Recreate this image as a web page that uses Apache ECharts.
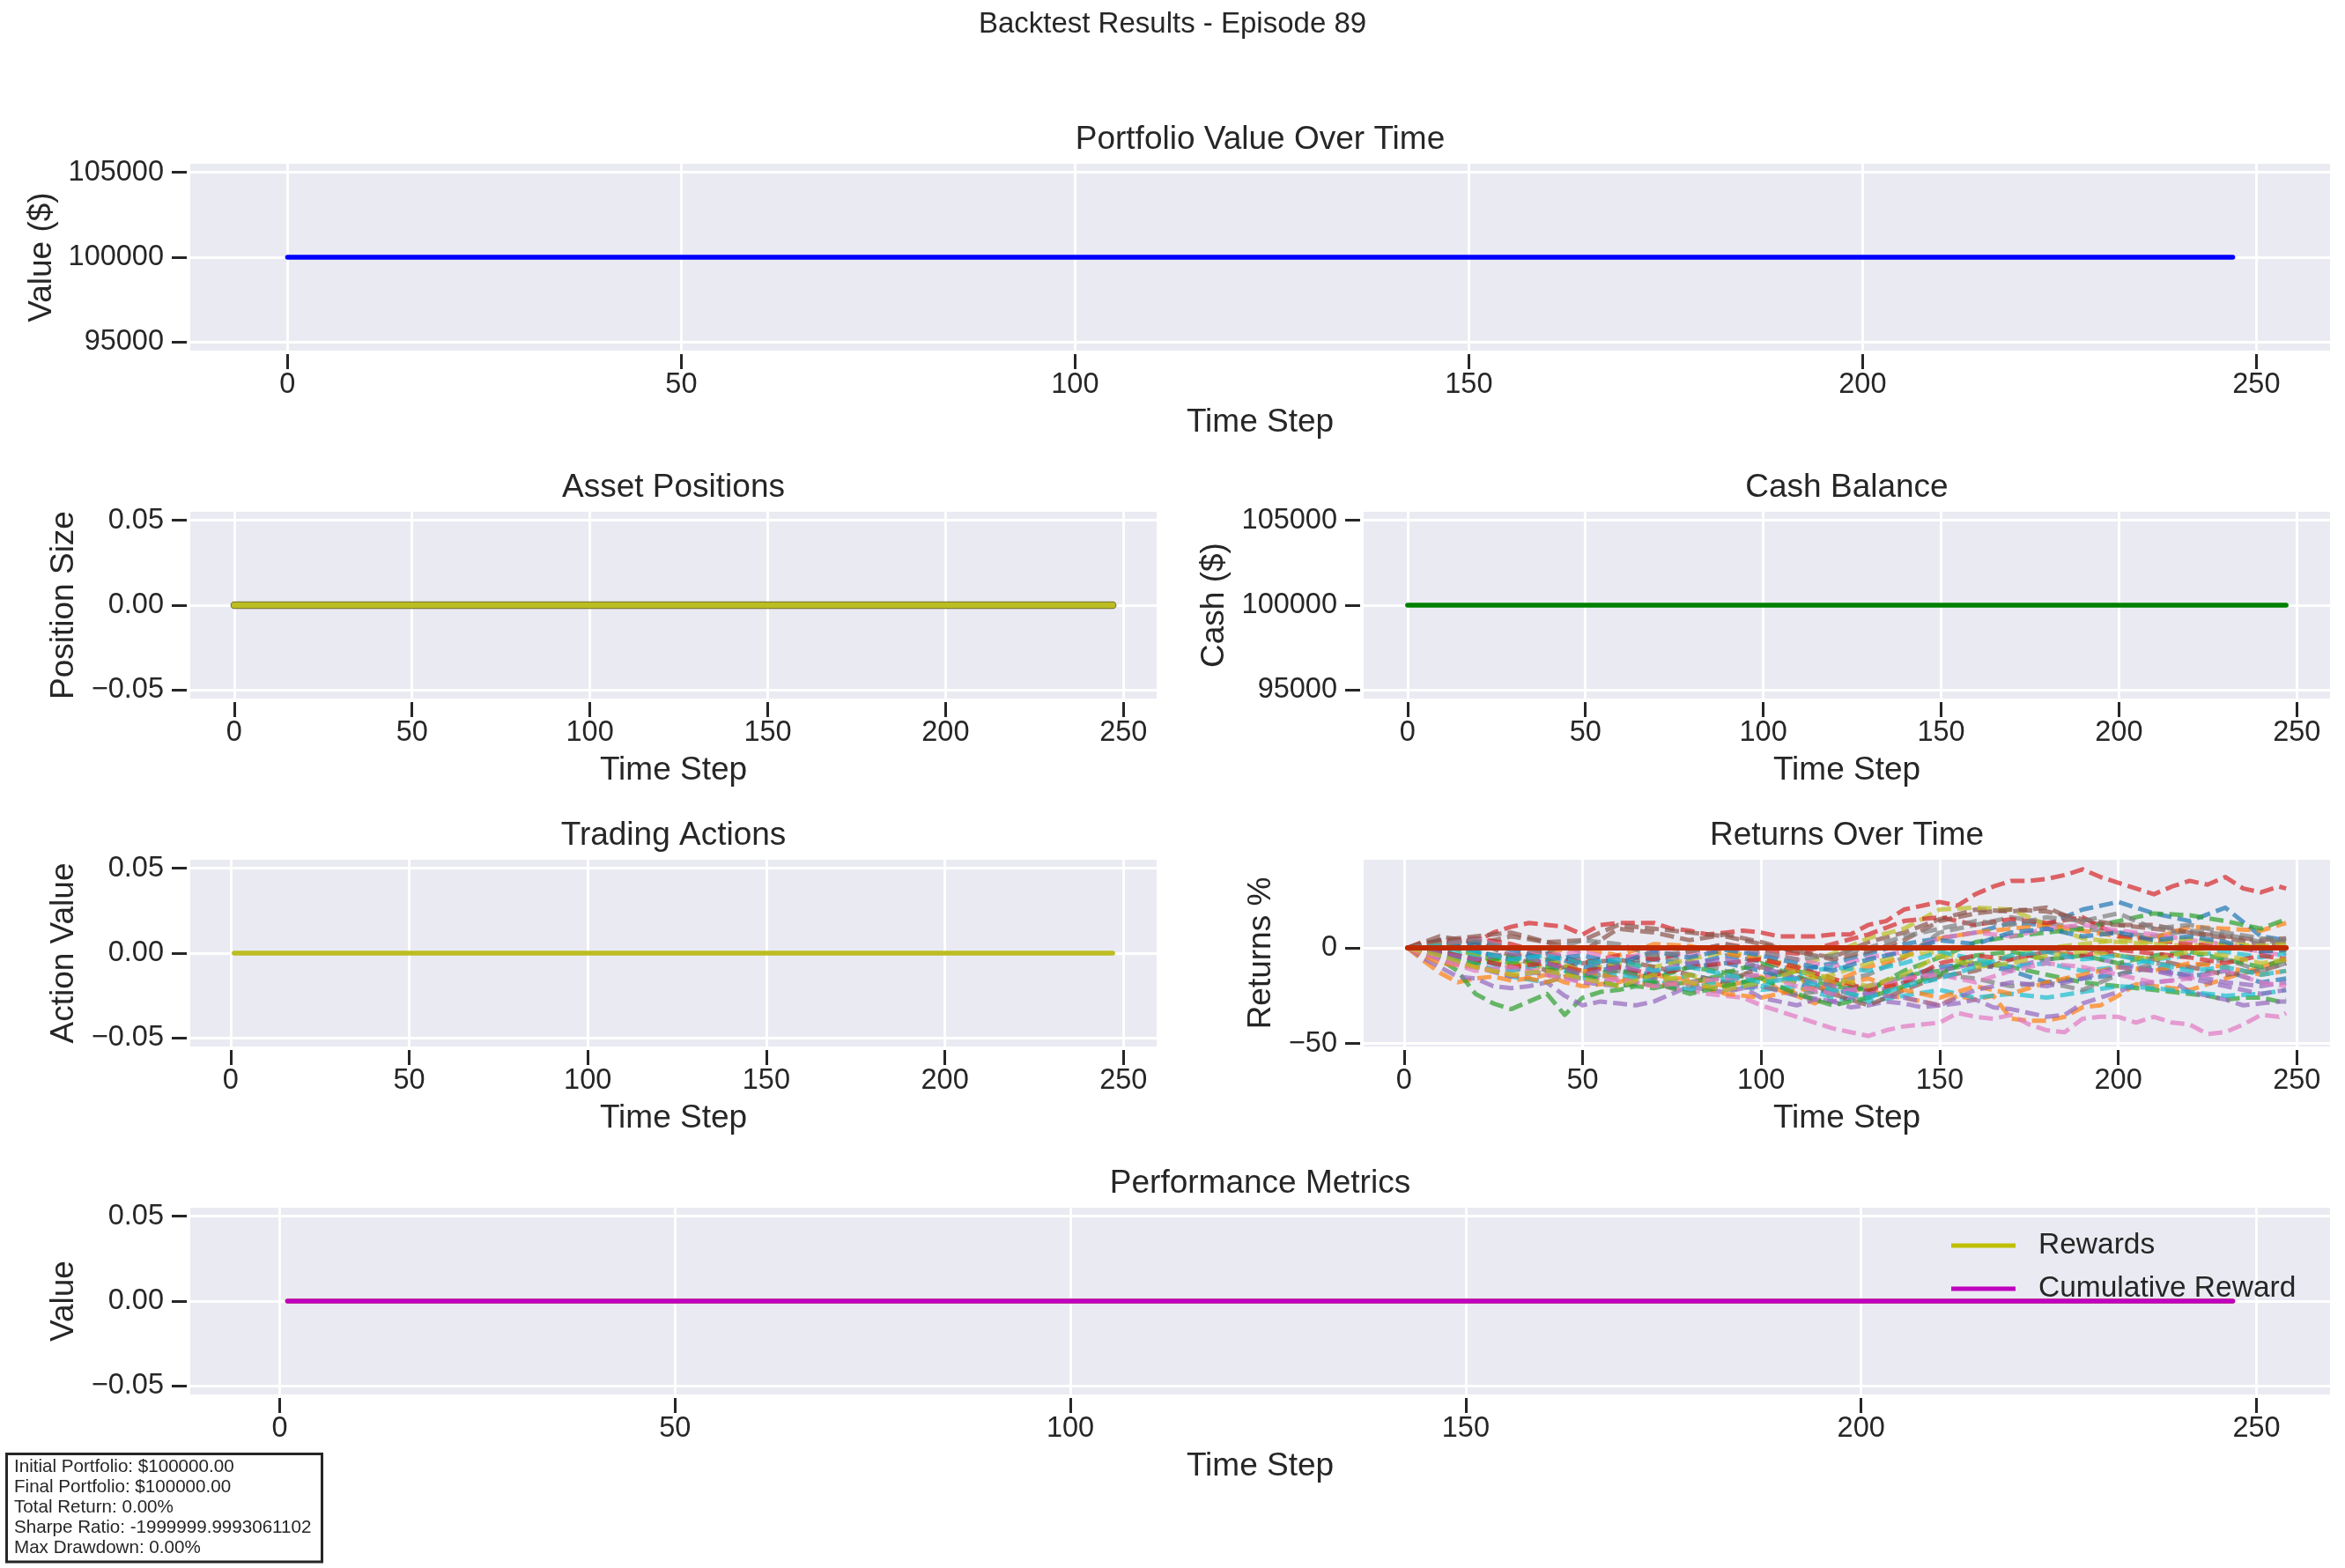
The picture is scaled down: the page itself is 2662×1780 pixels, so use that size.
<!DOCTYPE html>
<html><head><meta charset="utf-8">
<script src="https://cdn.jsdelivr.net/npm/echarts@6/dist/echarts.min.js"></script>
<style>html,body{margin:0;padding:0;background:#fff;overflow:hidden}#c{width:2662px;height:1780px}</style>
</head><body><div id="c"></div>
<script>
// ---------------- data ----------------
const portfolioSteps = [0, 247];
const portfolioValues = [100000, 100000];
const positionSteps = [0, 247];
const positionValues = [0, 0];
const cashSteps = [0, 247];
const cashValues = [100000, 100000];
const actionSteps = [1, 247];
const actionValues = [0, 0];
const rewardSteps = [1, 247];
const rewardValues = [0, 0];
const cumulativeRewardValues = [0, 0];
const portfolioReturnSteps = [1, 247];
const portfolioReturnValues = [0, 0];

const returnSteps = [1,10,20,30,40,50,60,70,80,90,100,110,120,130,140,150,160,170,180,190,200,210,220,230,240,247];
const fineSteps = [1,5,10,15,20,25,30,35,40,45,50,55,60,65,70,75,80,85,90,95,100,105,110,115,120,125,130,135,140,145,150,155,160,165,170,175,180,185,190,195,200,205,210,215,220,225,230,235,240,245,247];
const assetReturns = [
 [0,2,-3,-5,-2,-8,-10,-6,-9,-4,-7,-12,-8,-3,2,5,8,13,12,20,24,18,14,21,6,4],
 [0,-6,-13,-18,-16,-15,-17,-16,-14,-18,-20,-19,-18,-15,-14,-16,-16,-18,-20,-18,-15,-22,-25,-29,-24,-22,-22,-25,-26,-28,-30,-25,-27,-25,-37,-38,-38,-36,-31,-30,-25,-19,-20,-21,-22,-19,-16,-13,-10,-7,-6],
 [0,-3,-6,-12,-24,-29,-32,-28,-24,-35,-26,-23,-22,-20,-21,-19,-18,-16,-14,-15,-16,-14,-12,-15,-18,-20,-22,-18,-15,-13,-12,-10,-8,-9,-10,-12,-14,-16,-18,-19,-20,-21,-22,-23,-24,-25,-27,-26,-26,-28,-27],
 [0,3,2,4,3,8,11,13,12,11,7,12,13,13,13,10,9,7,8,9,8,6,6,6,7,7,12,14,20,22,24,22,28,32,35,35,36,38,41,37,34,31,28,32,35,33,37,31,29,32,31],
 [0,-5,-10,-15,-16,-20,-21,-20,-18,-25,-30,-28,-29,-30,-28,-24,-20,-22,-23,-21,-26,-28,-30,-27,-28,-31,-30,-28,-29,-31,-30,-29,-27,-31,-32,-34,-36,-35,-29,-26,-23,-19,-18,-17,-23,-25,-27,-30,-29,-28,-28],
 [0,4,2,6,3,-2,10,8,4,7,3,-2,-5,3,8,15,20,19,21,13,12,10,8,5,2,3],
 [0,-3,-5,-8,-9,-11,-12,-10,-12,-14,-15,-16,-17,-18,-19,-21,-22,-24,-25,-26,-30,-33,-36,-39,-42,-44,-46,-43,-41,-40,-39,-34,-36,-37,-35,-40,-43,-44,-37,-36,-36,-39,-36,-39,-40,-45,-44,-40,-35,-36,-34],
 [0,3,-2,-5,-8,-6,-10,-4,-7,-12,-15,-10,-18,-14,-5,8,12,16,13,10,8,6,9,7,3,4],
 [0,-3,-5,-8,-10,-12,-8,-10,-6,-2,-5,-10,-3,5,10,20,21,20,12,5,3,2,1,2,1,2],
 [0,-3,-8,-15,-18,-12,-16,-20,-14,-18,-22,-20,-26,-28,-25,-22,-26,-24,-26,-23,-20,-21,-23,-25,-24,-22],
 [0,4,-2,-6,-3,-10,-12,-14,-10,-8,-12,-18,-24,-20,-15,-10,-8,-12,-18,-16,-14,-10,-15,-12,-18,-16],
 [0,-2,-6,-4,-2,0,-4,2,1,-3,-6,-12,-18,-10,-5,5,8,10,12,9,6,5,11,10,9,13],
 [0,3,-4,-8,-6,-14,-12,-16,-10,-13,-8,-15,-20,-22,-12,-5,3,6,8,10,14,18,17,14,10,15],
 [0,3,5,2,-3,-8,-4,-6,-2,2,-1,-3,2,7,14,16,12,15,13,16,6,4,2,1,-2,-1],
 [0,-5,-10,-15,-12,-18,-20,-16,-18,-22,-20,-25,-28,-24,-18,-12,-8,-10,-6,-4,-8,-12,-14,-18,-20,-18],
 [0,6,3,-4,-12,-8,-6,-10,-14,-18,-10,-15,-24,-30,-22,-15,-12,-6,-2,0,-4,-6,-10,-14,-12,-8],
 [0,2,5,0,-4,-2,-6,-2,-4,0,-3,-6,-10,-5,-2,5,8,6,10,12,9,7,4,2,-2,-4],
 [0,-2,-6,-10,-14,-16,-12,-18,-20,-15,-20,-24,-22,-26,-18,-14,-16,-20,-18,-22,-14,-8,-10,-6,-12,-8],
 [0,2,-4,-10,-6,-12,-16,-18,-14,-20,-16,-18,-14,-8,-4,-2,-8,-4,0,2,4,3,5,2,0,-2],
 [0,-1,-5,-12,-8,-16,-14,-18,-22,-16,-20,-14,-10,-12,-8,-2,-6,-10,-8,-12,-10,-6,-4,-2,-5,-3],
 [0,-2,3,-1,-6,-4,-8,-2,-5,-1,-4,-8,-12,-6,-2,4,2,8,10,6,8,4,6,3,-2,-1],
 [0,-8,-10,-14,-18,-12,-16,-20,-18,-24,-26,-22,-20,-16,-22,-26,-20,-24,-18,-14,-10,-12,-8,-10,-14,-12],
 [0,-3,-8,-4,-10,-14,-20,-18,-24,-20,-16,-24,-30,-26,-20,-14,-4,-2,-6,-4,-8,-4,-2,-6,-10,-6],
 [0,-2,-6,-10,-8,-12,-10,-14,-10,-8,-6,-10,-16,-22,-18,-8,-4,-6,-2,-4,-1,-3,-5,-8,-4,-6],
 [0,-3,-6,-3,-8,-14,-10,-12,-8,-6,-10,-16,-20,-24,-26,-30,-22,-18,-20,-16,-10,-12,-16,-20,-24,-22],
 [0,4,6,8,3,4,12,10,8,6,2,-2,-6,-2,4,14,18,20,19,15,12,12,8,6,4,5],
 [0,-6,-12,-10,-14,-18,-16,-20,-18,-16,-14,-20,-24,-20,-16,-14,-18,-12,-8,-10,-14,-18,-16,-12,-18,-20],
 [0,2,4,0,-2,4,2,-4,-2,2,-2,-6,-4,0,6,10,14,12,16,14,18,10,12,8,5,4],
 [0,-4,-10,-14,-12,-16,-20,-14,-18,-22,-18,-12,-16,-20,-14,-4,-10,-8,-4,-2,-4,-6,-2,-4,-8,-6],
 [0,1,-2,-6,-4,-8,-6,-12,-10,-14,-18,-16,-22,-26,-20,-16,-10,-4,-2,-6,-4,-8,-12,-10,-14,-12]
];

const timeTicks = [0, 50, 100, 150, 200, 250];
const moneyTicks = [95000, 100000, 105000];
const smallTicks = [-0.05, 0, 0.05];
const returnTicks = [-50, 0];
const statsLines = [
  'Initial Portfolio: $100000.00',
  'Final Portfolio: $100000.00',
  'Total Return: 0.00%',
  'Sharpe Ratio: -1999999.9993061102',
  'Max Drawdown: 0.00%'
];

// ---------------- styling ----------------
const FONT = "'Liberation Sans', Arial, Helvetica, sans-serif";
const INK = '#262626';
const TAB10 = ['#1f77b4','#ff7f0e','#2ca02c','#d62728','#9467bd','#8c564b','#e377c2','#7f7f7f','#bcbd22','#17becf'];
const zip = (xs, ys) => xs.map((x, i) => [x, ys[i]]);
const minus = v => (v < 0 ? '\u2212' : '') + Math.abs(v);

const gridBoxes = [
  {left: 216, top: 186, width: 2429, height: 212},
  {left: 216, top: 581, width: 1097, height: 212},
  {left: 1548, top: 581, width: 1097, height: 212},
  {left: 216, top: 976, width: 1097, height: 212},
  {left: 1548, top: 976, width: 1097, height: 212},
  {left: 216, top: 1371, width: 2429, height: 212}
];
const grid = gridBoxes.map(g => Object.assign({show: true, backgroundColor: '#eaeaf2', borderWidth: 0, containLabel: false, outerBoundsMode: 'none'}, g));

function xAx(i, min, max) {
  return {type: 'value', gridIndex: i, min, max, offset: 4,
    axisLine: {show: false, onZero: false},
    axisTick: {show: true, length: 17, lineStyle: {color: INK, width: 3}, customValues: timeTicks},
    axisLabel: {customValues: timeTicks, fontSize: 32.5, color: INK, fontFamily: FONT, margin: 19},
    splitLine: {show: true, lineStyle: {color: '#ffffff', width: 2.8}}};
}
function yAx(i, min, max, ticks, fmt) {
  return {type: 'value', gridIndex: i, min, max, offset: 4,
    axisLine: {show: false, onZero: false},
    axisTick: {show: true, length: 17, lineStyle: {color: INK, width: 3}, customValues: ticks},
    axisLabel: {customValues: ticks, fontSize: 32.5, color: INK, fontFamily: FONT, margin: 26, formatter: fmt},
    splitLine: {show: true, lineStyle: {color: '#ffffff', width: 3}}};
}
const fmtMoney = v => String(Math.round(v));
const fmtSmall = v => (v < -1e-9 ? '\u2212' : '') + Math.abs(v).toFixed(2);

const xAxis = [
  xAx(0, -12.35, 259.35), xAx(1, -12.35, 259.35), xAx(2, -12.35, 259.35),
  xAx(3, -11.3, 259.3), xAx(4, -11.3, 259.3), xAx(5, -11.3, 259.3)
];
const yAxis = [
  yAx(0, 94500, 105500, moneyTicks, fmtMoney),
  yAx(1, -0.055, 0.055, smallTicks, fmtSmall),
  yAx(2, 94500, 105500, moneyTicks, fmtMoney),
  yAx(3, -0.055, 0.055, smallTicks, fmtSmall),
  yAx(4, -51.5, 46, returnTicks, minus),
  yAx(5, -0.055, 0.055, smallTicks, fmtSmall)
];

function solid(name, idx, steps, vals, color, width, z) {
  return {type: 'line', name, xAxisIndex: idx, yAxisIndex: idx, data: zip(steps, vals),
    showSymbol: false, symbol: 'none', silent: true, z: z || 3,
    itemStyle: {color}, lineStyle: {color, width, cap: 'round'}};
}

const series = [];
series.push(solid('Portfolio Value', 0, portfolioSteps, portfolioValues, '#0000ff', 5.5));
series.push(solid('Position edge', 1, positionSteps, positionValues, '#6f6f2a', 8.5));
series.push(solid('Position', 1, positionSteps, positionValues, '#bcbd22', 6.5, 4));
series.push(solid('Cash', 2, cashSteps, cashValues, '#008000', 5.5));
series.push(solid('Actions', 3, actionSteps, actionValues, '#bcbd22', 5.5));
assetReturns.forEach((vals, k) => {
  const c = TAB10[k % 10];
  const steps = vals.length === fineSteps.length ? fineSteps : returnSteps;
  series.push({type: 'line', name: 'Asset ' + (k + 1), xAxisIndex: 4, yAxisIndex: 4,
    data: zip(steps, vals), showSymbol: false, symbol: 'none', silent: true, z: 2,
    itemStyle: {color: c},
    lineStyle: {color: c, width: 5, opacity: 0.7, type: [16, 7], cap: 'butt', join: 'round'}});
});
series.push(solid('Portfolio Returns', 4, portfolioReturnSteps, portfolioReturnValues, '#c02a00', 6, 5));
series.push(solid('Rewards', 5, rewardSteps, rewardValues, '#bfbf00', 5.5));
series.push(solid('Cumulative Reward', 5, rewardSteps, cumulativeRewardValues, '#bf00bf', 5.5, 4));

// ---------------- texts ----------------
function txt(text, x, y, size, rot) {
  return {type: 'text', x, y, rotation: rot ? Math.PI / 2 : 0, silent: true, z: 10,
    style: {text, fontSize: size, fontFamily: FONT, fill: INK, align: 'center', verticalAlign: 'middle'}};
}
const graphic = [
  txt('Backtest Results - Episode 89', 1331, 28, 33),
  txt('Portfolio Value Over Time', 1430.5, 159, 37),
  txt('Asset Positions', 764.5, 554, 37),
  txt('Cash Balance', 2096.5, 554, 37),
  txt('Trading Actions', 764.5, 949, 37),
  txt('Returns Over Time', 2096.5, 949, 37),
  txt('Performance Metrics', 1430.5, 1344, 37),
  txt('Time Step', 1430.5, 480, 37),
  txt('Time Step', 764.5, 875, 37),
  txt('Time Step', 2096.5, 875, 37),
  txt('Time Step', 764.5, 1270, 37),
  txt('Time Step', 2096.5, 1270, 37),
  txt('Time Step', 1430.5, 1665, 37),
  txt('Value ($)', 48, 292, 37, true),
  txt('Position Size', 73, 687, 37, true),
  txt('Cash ($)', 1379, 687, 37, true),
  txt('Action Value', 73, 1082, 37, true),
  txt('Returns %', 1432, 1082, 37, true),
  txt('Value', 73, 1477, 37, true),
  {type: 'rect', silent: true, z: 10, shape: {x: 7.5, y: 1650.5, width: 358, height: 122.5},
    style: {fill: '#ffffff', stroke: INK, lineWidth: 3}},
  {type: 'text', x: 16, y: 1653.5, silent: true, z: 11,
    style: {text: statsLines.join('\n'), fontSize: 20.6, lineHeight: 23.1, fontFamily: FONT, fill: INK, align: 'left', verticalAlign: 'top'}}
];

const chart = echarts.init(document.getElementById('c'), null, {renderer: 'canvas', width: 2662, height: 1780});
chart.setOption({
  animation: false,
  backgroundColor: '#ffffff',
  grid, xAxis, yAxis, series, graphic,
  legend: {data: ['Rewards', 'Cumulative Reward'], orient: 'vertical', left: 2210, top: 1392,
    itemWidth: 73, itemHeight: 5, itemGap: 15, icon: 'rect', selectedMode: false,
    textStyle: {fontSize: 33.5, color: INK, fontFamily: FONT, lineHeight: 34, padding: [0, 0, 0, 21]}}
});
</script></body></html>
